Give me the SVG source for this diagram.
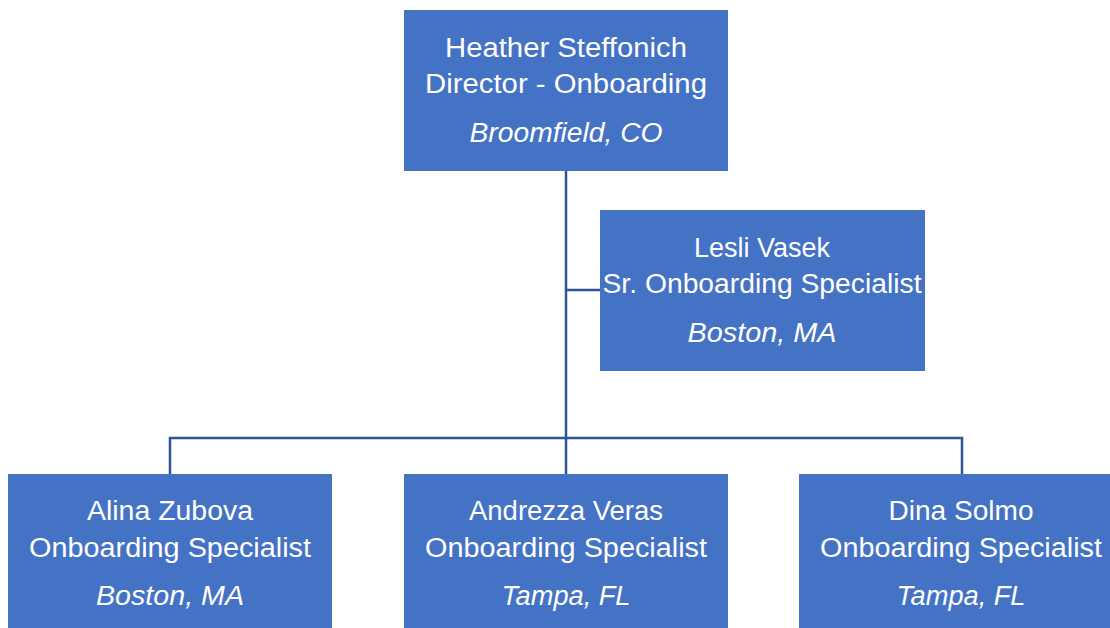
<svg xmlns="http://www.w3.org/2000/svg" width="1110" height="628" viewBox="0 0 1110 628">
<style>
.box{fill:#4472C4;}
.t{font-family:"Liberation Sans",Arial,sans-serif;font-size:27px;fill:#FFFFFF;text-anchor:middle;}
.i{font-style:italic;}
.c{fill:none;stroke:#2F5597;stroke-width:2.5;}
</style>
<rect width="1110" height="628" fill="#FFFFFF"/>
<g id="connectors">
<path class="c" d="M566 171 V474"/>
<path class="c" d="M566 290 H600"/>
<path class="c" d="M170 474 V438 H962 V474"/>
</g>
<g id="heather">
<rect class="box" x="404" y="10" width="324" height="161"/>
<text class="t" x="566" y="57" textLength="242" lengthAdjust="spacingAndGlyphs">Heather Steffonich</text>
<text class="t" x="566" y="93" textLength="282" lengthAdjust="spacingAndGlyphs">Director - Onboarding</text>
<text class="t i" x="566" y="142" textLength="193" lengthAdjust="spacingAndGlyphs">Broomfield, CO</text>
</g>
<g id="lesli">
<rect class="box" x="600" y="210" width="325" height="161"/>
<text class="t" x="762" y="257" textLength="136" lengthAdjust="spacingAndGlyphs">Lesli Vasek</text>
<text class="t" x="762" y="293" textLength="319" lengthAdjust="spacingAndGlyphs">Sr. Onboarding Specialist</text>
<text class="t i" x="762" y="342" textLength="149" lengthAdjust="spacingAndGlyphs">Boston, MA</text>
</g>
<g id="alina">
<rect class="box" x="8" y="474" width="324" height="160"/>
<text class="t" x="170" y="520" textLength="166" lengthAdjust="spacingAndGlyphs">Alina Zubova</text>
<text class="t" x="170" y="557" textLength="282" lengthAdjust="spacingAndGlyphs">Onboarding Specialist</text>
<text class="t i" x="170" y="605" textLength="148" lengthAdjust="spacingAndGlyphs">Boston, MA</text>
</g>
<g id="andrezza">
<rect class="box" x="404" y="474" width="324" height="160"/>
<text class="t" x="566" y="520" textLength="194" lengthAdjust="spacingAndGlyphs">Andrezza Veras</text>
<text class="t" x="566" y="557" textLength="282" lengthAdjust="spacingAndGlyphs">Onboarding Specialist</text>
<text class="t i" x="566" y="605" textLength="129" lengthAdjust="spacingAndGlyphs">Tampa, FL</text>
</g>
<g id="dina">
<rect class="box" x="799" y="474" width="324" height="160"/>
<text class="t" x="961" y="520" textLength="145" lengthAdjust="spacingAndGlyphs">Dina Solmo</text>
<text class="t" x="961" y="557" textLength="282" lengthAdjust="spacingAndGlyphs">Onboarding Specialist</text>
<text class="t i" x="961" y="605" textLength="129" lengthAdjust="spacingAndGlyphs">Tampa, FL</text>
</g>
</svg>
